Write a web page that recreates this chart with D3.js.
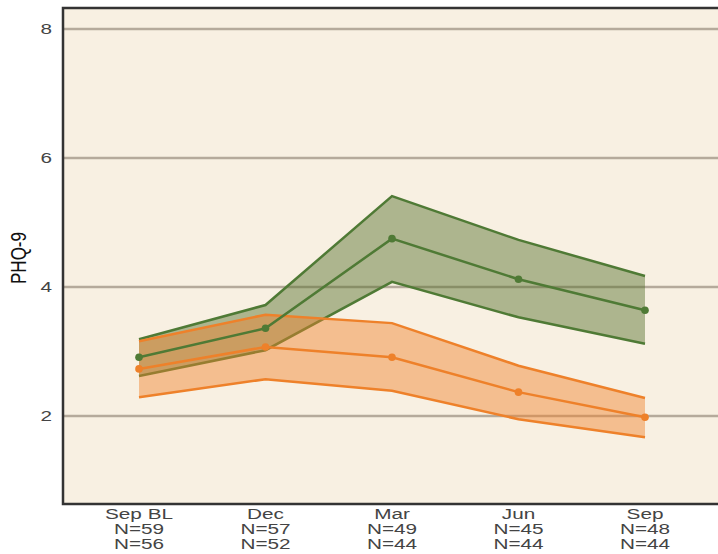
<!DOCTYPE html>
<html>
<head>
<meta charset="utf-8">
<script src="https://cdn.jsdelivr.net/npm/d3@7"></script>
<style>
  body { margin: 0; background: #fff; }
  text { font-family: "Liberation Sans", Arial, sans-serif; }
</style>
</head>
<body>
<div id="chart"></div>
<script>
// data
var waves = ["Sep BL", "Dec", "Mar", "Jun", "Sep"];
var nGreen = [59, 57, 49, 45, 48];
var nOrange = [56, 52, 44, 44, 44];

var greenMean  = [2.91, 3.36, 4.75, 4.12, 3.64];
var greenUpper = [3.19, 3.72, 5.41, 4.73, 4.17];
var greenLower = [2.62, 3.02, 4.08, 3.53, 3.12];

var orangeMean  = [2.73, 3.07, 2.91, 2.37, 1.98];
var orangeUpper = [3.16, 3.57, 3.44, 2.78, 2.28];
var orangeLower = [2.29, 2.57, 2.39, 1.95, 1.67];

var yTicks = [2, 4, 6, 8];

var W = 718, H = 554;
var padLeft = 63, padTop = 8, padBottom = 504;
var stretch = 1.48; // text in the reference is wide

var svg = d3.select("#chart").append("svg")
    .attr("width", W).attr("height", H);

var y = d3.scaleLinear().domain([0, 8]).range([545, 29]);
var x = d3.scalePoint().domain(waves).range([139, 645]);

// panel
svg.append("rect")
    .attr("x", padLeft).attr("y", padTop)
    .attr("width", W - padLeft + 5).attr("height", padBottom - padTop)
    .attr("fill", "#f8f0e2");

// grid lines
svg.selectAll(".grid").data(yTicks).enter().append("line")
    .attr("x1", padLeft).attr("x2", W)
    .attr("y1", function(d) { return y(d); })
    .attr("y2", function(d) { return y(d); })
    .attr("stroke", "#b5aa9b").attr("stroke-width", 2.5);

// y tick labels
svg.selectAll(".yt").data(yTicks).enter().append("text")
    .attr("transform", function(d) {
      return "translate(52," + (y(d) + 5) + ") scale(" + stretch + ",1)";
    })
    .attr("text-anchor", "end")
    .style("font-size", "14px").attr("fill", "#444")
    .text(function(d) { return d; });

svg.append("text")
    .attr("transform", "translate(26,258) rotate(-90) scale(1,1.3)")
    .attr("text-anchor", "middle")
    .style("font-size", "17px").attr("fill", "#111")
    .text("PHQ-9");

// x labels (three lines)
var rows = [
  function(d) { return d; },
  function(d, i) { return "N=" + nGreen[i]; },
  function(d, i) { return "N=" + nOrange[i]; }
];
rows.forEach(function(fn, r) {
  svg.selectAll(".xl" + r).data(waves).enter().append("text")
      .attr("transform", function(d) {
        return "translate(" + x(d) + "," + (519 + r * 15) + ") scale(" + stretch + ",1)";
      })
      .attr("text-anchor", "middle")
      .style("font-size", "14px").attr("fill", "#444")
      .text(fn);
});

var line = d3.line()
    .x(function(d, i) { return x(waves[i]); })
    .y(function(d) { return y(d); });

function band(upper, lower, fill, color) {
  var area = d3.area()
      .x(function(d, i) { return x(waves[i]); })
      .y0(function(d, i) { return y(lower[i]); })
      .y1(function(d) { return y(d); });
  svg.append("path").datum(upper).attr("d", area)
      .attr("fill", fill).attr("fill-opacity", 0.45);
  [upper, lower].forEach(function(s) {
    svg.append("path").datum(s).attr("d", line)
        .attr("fill", "none").attr("stroke", color).attr("stroke-width", 2.5);
  });
}

function meanLine(mean, color) {
  svg.append("path").datum(mean).attr("d", line)
      .attr("fill", "none").attr("stroke", color).attr("stroke-width", 2.5);
  svg.selectAll(null).data(mean).enter().append("circle")
      .attr("cx", function(d, i) { return x(waves[i]); })
      .attr("cy", function(d) { return y(d); })
      .attr("r", 3.8).attr("fill", color);
}

band(greenUpper, greenLower, "#516d27", "#4f7a35");
band(orangeUpper, orangeLower, "#ef812a", "#ee812a");
meanLine(orangeMean, "#ee812a");
meanLine(greenMean, "#4f7a35");

// borders
svg.append("path")
    .attr("d", "M" + W + "," + padTop + "H" + padLeft + "V" + padBottom + "H" + W)
    .attr("fill", "none").attr("stroke", "#333").attr("stroke-width", 2.5);
</script>
</body>
</html>
